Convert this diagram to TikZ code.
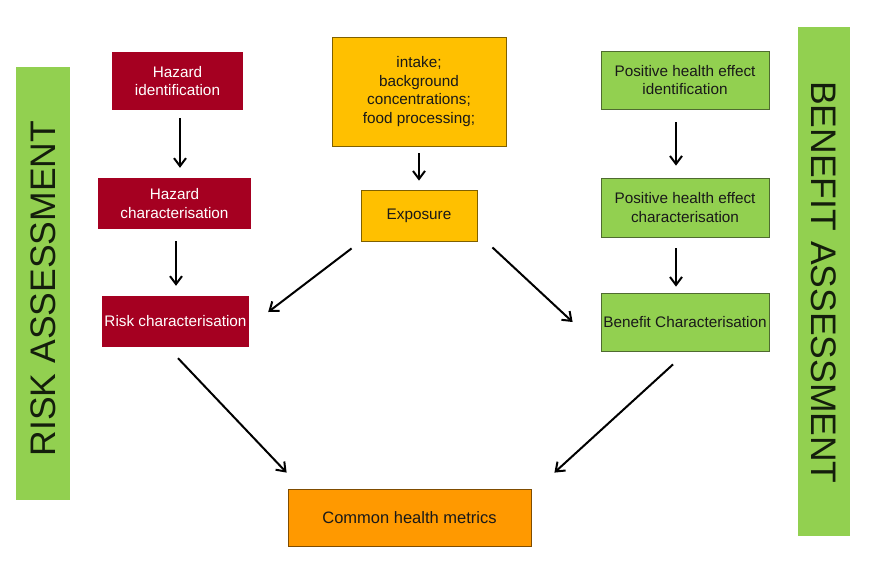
\documentclass[tikz,border=0pt]{standalone}
\usepackage{fontspec}
\setmainfont{Liberation Sans}
\usetikzlibrary{arrows.meta,calc}
\definecolor{riskred}{HTML}{A50021}
\definecolor{goldbox}{HTML}{FFC000}
\definecolor{goldedge}{HTML}{7F6000}
\definecolor{greenbox}{HTML}{92D050}
\definecolor{greenedge}{HTML}{4F6B30}
\definecolor{orangebox}{HTML}{FF9900}
\definecolor{orangeedge}{HTML}{7F4C00}
\definecolor{bartext}{HTML}{141E0C}
\begin{document}
\begin{tikzpicture}[x=1pt,y=-1pt,
  box/.style={rectangle,inner sep=0pt,align=center,font=\fontsize{15.3}{18.7}\selectfont},
  redbox/.style={box,fill=riskred,text=white},
  goldnode/.style={box,fill=goldbox,draw=goldedge,line width=0.8pt,text=black!90},
  greennode/.style={box,fill=greenbox,draw=greenedge,line width=0.8pt,text=black!90},
  orangenode/.style={box,fill=orangebox,draw=orangeedge,line width=0.8pt,text=black!90,font=\fontsize{16.5}{20}\selectfont},
  bar/.style={rectangle,inner sep=0pt,fill=greenbox},
  bartxt/.style={text=bartext,font=\fontsize{35.5}{40}\selectfont,inner sep=0pt},
  arr/.style={-{Straight Barb[length=8pt,width=12pt]},line width=2pt,black}]
\useasboundingbox (0,0) rectangle (882,567);

% side bars
\node[bar,minimum width=54pt,minimum height=433pt] (lbar) at (43,283.5) {};
\node[bartxt,rotate=90] (ltxt) at (43,288.5) {RISK ASSESSMENT};
\node[bar,minimum width=52pt,minimum height=509pt] (rbar) at (824,281.5) {};
\node[bartxt,rotate=-90] (rtxt) at (824,282.5) {BENEFIT ASSESSMENT};

% risk column
\node[redbox,minimum width=131pt,minimum height=58pt] (hid) at (177.5,81) {Hazard\\identification};
\node[redbox,minimum width=153pt,minimum height=51pt] (hch) at (174.5,203.5) {Hazard\\characterisation};
\node[redbox,minimum width=147pt,minimum height=51pt] (rch) at (175.5,321.5) {Risk characterisation};

% centre column
\node[goldnode,minimum width=174pt,minimum height=109pt] (intake) at (419,91.5) {intake;\\background\\concentrations;\\food processing;};
\node[goldnode,minimum width=116pt,minimum height=51pt] (expo) at (419,215.5) {Exposure};

% benefit column
\node[greennode,minimum width=168pt,minimum height=58pt] (pid) at (685,80) {Positive health effect\\identification};
\node[greennode,minimum width=168pt,minimum height=59pt] (pch) at (685,207.5) {Positive health effect\\characterisation};
\node[greennode,minimum width=168pt,minimum height=58pt] (bch) at (685,322) {Benefit Characterisation};

% bottom
\node[orangenode,minimum width=243pt,minimum height=57pt] (chm) at (409.5,517.5) {Common health metrics};

% arrows
\draw[arr] ($(hid.south)+(2.5,8)$) -- ($(hch.north)+(5.5,-10)$);
\draw[arr] ($(hch.south)+(1.5,12)$) -- ($(rch.north)+(0.5,-10)$);
\draw[arr] ($(intake.south)+(0,7)$) -- ($(expo.north)+(0,-9)$);
\draw[arr] ($(pid.south)+(-9,13)$) -- ($(pch.north)+(-9,-12)$);
\draw[arr] ($(pch.south)+(-9,11)$) -- ($(bch.north)+(-9,-6)$);
\draw[arr] ($(expo.south west)+(-9,7)$) -- ($(rch.east)+(19,-9.5)$);
\draw[arr] ($(expo.south east)+(15,6)$) -- ($(bch.west)+(-28,0)$);
\draw[arr] ($(rch.south)+(2.5,11)$) -- ($(chm.north west)+(-1,-16)$);
\draw[arr] ($(bch.south)+(-12,13)$) -- ($(chm.north east)+(23,-16)$);
\end{tikzpicture}
\end{document}
